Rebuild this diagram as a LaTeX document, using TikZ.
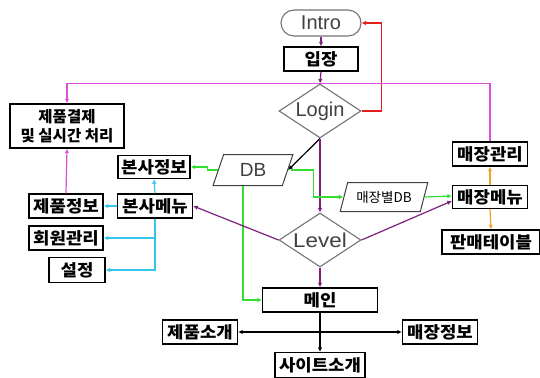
\documentclass[tikz,border=0pt]{standalone}
\usepackage{fontspec}
\setmainfont{Liberation Sans}
\newfontfamily\kr{Noto Sans CJK KR}
\usetikzlibrary{arrows.meta,shapes.geometric}
\definecolor{cpur}{HTML}{7E1F7E}
\definecolor{cmag}{HTML}{D94FD9}
\definecolor{cgrn}{HTML}{33DD33}
\definecolor{ccyan}{HTML}{33C6E8}
\definecolor{corg}{HTML}{EFA424}
\definecolor{cred}{HTML}{E01E1E}
\newcommand\krwide[1]{\scalebox{1.08}[1]{#1}}
\begin{document}
\begin{tikzpicture}[x=1pt,y=-1pt,
  box/.style={draw=black, line width=1.3pt, fill=white, inner sep=0pt, minimum height=24pt,
    font=\kr\bfseries\fontsize{16.5}{18}\selectfont},
  dia/.style={diamond, draw=black!55, line width=1.1pt, inner sep=0pt, aspect=1.55,
    minimum width=82pt, minimum height=54pt, font=\fontsize{20}{22}\selectfont, text=black!75},
  para/.style={trapezium, trapezium left angle=70, trapezium right angle=110, trapezium stretches=true,
    draw=black!75, line width=1pt, inner sep=0pt},
  arr/.style={-{Latex[length=4.5pt,width=4.5pt]}, line width=1.2pt}]
\useasboundingbox (0,0) rectangle (540,377);
\fill[white] (0,0) rectangle (540,377);
% nodes
\node[draw=black!55, line width=1.1pt, rounded corners=13pt, minimum width=80pt, minimum height=26pt,
  inner sep=0pt, font=\fontsize{20}{22}\selectfont, text=black!75] (intro) at (321,23) {Intro};
\node[box, minimum width=74pt] (ipjang) at (321,59) {\krwide{입장}};
\node[dia] (login) at (320,111) {Login};
\node[dia] (level) at (320,240) {\scalebox{1.12}[1]{Level}};
\node[box, minimum width=114pt, minimum height=44pt, align=center,
  font=\kr\bfseries\fontsize{15.5}{19}\selectfont] (jepum) at (67,126) {제품결제\\및 실시간 처리};
\node[box, minimum width=72pt, minimum height=23pt] (bs) at (154,167) {\krwide{본사정보}};
\node[para, minimum width=80pt, minimum height=31pt, font=\fontsize{19}{20}\selectfont, text=black!75] (db) at (253,170) {DB};
\node[para, trapezium left angle=65, trapezium right angle=115, minimum width=88pt, minimum height=29pt,
  font=\kr\fontsize{13.5}{15}\selectfont, text=black] (mdb) at (384,197) {매장별DB};
\node[box, minimum width=75pt] (mg) at (490,154) {\krwide{매장관리}};
\node[box, minimum width=75pt, minimum height=23pt] (mm) at (490,197) {\krwide{매장메뉴}};
\node[box, minimum width=98pt] (pt) at (491,242) {\krwide{판매테이블}};
\node[box, minimum width=75pt] (bm) at (155,206) {\krwide{본사메뉴}};
\node[box, minimum width=74pt] (ji) at (66,206) {\krwide{제품정보}};
\node[box, minimum width=74pt] (hw) at (66,238) {\krwide{회원관리}};
\node[box, minimum width=56pt, minimum height=25pt] (sj) at (77,270) {\krwide{설정}};
\node[box, minimum width=115pt] (main) at (320,300) {\krwide{메인}};
\node[box, minimum width=75pt] (js) at (200,332) {\krwide{제품소개}};
\node[box, minimum width=75pt] (mj) at (440,332) {\krwide{매장정보}};
\node[box, minimum width=90pt, minimum height=25pt] (site) at (320,365) {\krwide{사이트소개}};
% connectors
\draw[arr, cpur] (intro.south) -- (ipjang.north);
\draw[arr, cpur] (ipjang.south) -- (login.north);
\draw[arr, cred] (login.east) -- ++(20,0) |- (intro.east);
\draw[arr, cmag] (mg.north) |- (jepum.north |- login.north) -- (jepum.north);
\draw[arr, cmag] (ji.north) -- (jepum.south);
\draw[arr, black] (login.south) -- (db.east);
\draw[arr, cpur] (login.south) -- (level.north);
\draw[arr, cgrn] (db.west) -- ++(-10,0) |- (bs.east);
\draw[arr, cgrn] ([xshift=3pt]db.east) -- ++(22,0) |- (mdb.west);
\draw[arr, cgrn] (mdb.east) -- ([yshift=1pt]mm.west);
\draw[arr, cgrn] ([xshift=-10pt]db.south) |- (main.west);
\draw[arr, cpur] (level.west) -- (bm.east);
\draw[arr, cpur] (level.east) -- ([yshift=-4pt]mm.west);
\draw[arr, cpur] (level.south) -- (main.north);
\draw[arr, corg] (mm.north) -- (mg.south);
\draw[arr, corg] (mm.south) -- (pt.north);
\draw[arr, ccyan] (bm.west) -- (ji.east);
\draw[arr, ccyan] (bm.north) -- (bs.south);
\draw[arr, ccyan] (bm.south) -- (bm.south |- sj.east) -- (sj.east);
\draw[arr, ccyan] (bm.south |- hw.east) -- (hw.east);
\draw[arr, black] (main.south) -- (site.north);
\coordinate (mj0) at (main.south |- js.east);
\draw[arr, black] (mj0) -- (js.east);
\draw[arr, black] (mj0) -- (mj.west);
\end{tikzpicture}
\end{document}
